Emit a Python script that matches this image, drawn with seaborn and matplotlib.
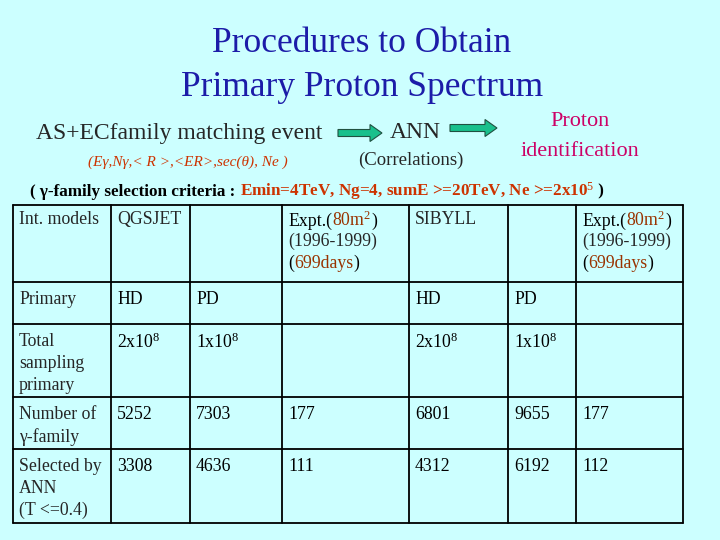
import matplotlib
matplotlib.use("Agg")
import matplotlib.pyplot as plt
import seaborn as sns
from matplotlib.patches import FancyArrow
from matplotlib.offsetbox import TextArea, HPacker, AnnotationBbox

sns.set_style("white")
plt.rcParams['font.family'] = ['Liberation Serif', 'DejaVu Serif']
plt.rcParams['mathtext.fontset'] = 'custom'
plt.rcParams['mathtext.rm'] = 'Liberation Serif'
plt.rcParams['mathtext.it'] = 'Liberation Serif:italic'
plt.rcParams['mathtext.bf'] = 'Liberation Serif:bold'

BG = "#ccffff"
RED = "#cc3300"
DARK = "#993300"
FS = 12.8

title_lines = ["Procedures to Obtain", "Primary Proton Spectrum"]
col_x = [13, 111, 190, 282, 409, 508, 576, 683]
row_y = [205, 282, 324, 397, 449, 523]
header = ["Int. models", "QGSJET", "", "EXPT", "SIBYLL", "", "EXPT"]
row_labels = [["Primary"], ["Total", "sampling", "primary"], ["Number of", "γ-family"],
              ["Selected by", "ANN", "(T <=0.4)"]]
primary = ["HD", "PD", "", "HD", "PD", ""]
total = ["2x10$^{8}$", "1x10$^{8}$", "", "2x10$^{8}$", "1x10$^{8}$", ""]
number = ["5252", "7303", "177", "6801", "9655", "177"]
selected = ["3308", "4636", "111", "4312", "6192", "112"]

fig = plt.figure(figsize=(7.2, 5.4), dpi=100)
fig.patch.set_facecolor(BG)
ax = fig.add_axes([0, 0, 1, 1])
ax.set_xlim(0, 720); ax.set_ylim(540, 0); ax.axis("off")
ax.set_facecolor(BG)

def runs(x, y, parts, size=FS, weight="normal"):
    kids = [TextArea(t, textprops=dict(color=c, fontsize=size, fontweight=weight,
                                       family="Liberation Serif")) for t, c in parts]
    box = HPacker(children=kids, sep=0, pad=0, align="baseline")
    ab = AnnotationBbox(box, (x, y), xycoords="data", box_alignment=(0, 1),
                        frameon=False, pad=0)
    ax.add_artist(ab)

# title
for i, l in enumerate(title_lines):
    ax.text(362, 44 + i * 43, l, fontsize=25.5, color="#1c1ca8", ha="center", va="center")

ax.text(36, 133, "AS+ECfamily matching event", fontsize=17, va="center")
ax.text(390, 133, "ANN", fontsize=17, va="center")
ax.text(580, 122, "Proton", fontsize=16, color="#cc0066", ha="center", va="center")
ax.text(580, 151, "identification", fontsize=16, color="#cc0066", ha="center", va="center")
ax.text(88, 162, "(Eγ,Nγ,< R >,<ER>,sec(θ), Ne )", fontsize=11, color=RED,
        style="italic", va="center")
ax.text(358, 160, "(Correlations)", fontsize=13.5, va="center")
for x0, x1, yy in [(338, 382, 133), (450, 497, 128)]:
    ax.add_patch(FancyArrow(x0, yy, x1 - x0, 0, width=7,
                            head_width=17, head_length=12, length_includes_head=True,
                            fc="#19c08c", ec="#205040", lw=0.8))

runs(30, 180, [("( γ-family selection criteria : ", "black"),
               ("Emin=4TeV, Ng=4, sumE >=20TeV, Ne >=2x10$^{5}$", RED),
               (" )", "black")], size=12.3, weight="bold")

# table grid
for y in row_y:
    ax.plot([col_x[0], col_x[-1]], [y, y], color="black", lw=1.3)
for x in col_x:
    ax.plot([x, x], [row_y[0], row_y[-1]], color="black", lw=1.3)

pad = 6
ty = row_y[0] + 6
for j, h in enumerate(header):
    x = col_x[j] + pad
    if h == "EXPT":
        runs(x, ty, [("Expt.(", "black"), ("80m$^{2}$", DARK), (")", "black")])
        ax.text(x, ty + 22, "(1996-1999)", fontsize=FS, va="top")
        runs(x, ty + 44, [("(", "black"), ("699days", DARK), (")", "black")])
    elif h:
        ax.text(x, ty, h, fontsize=FS, va="top")

rows = [primary, total, number, selected]
for i, (lab, vals) in enumerate(zip(row_labels, rows)):
    y = row_y[i + 1] + 9
    for k, l in enumerate(lab):
        ax.text(col_x[0] + 6, y + k * 22, l, fontsize=FS, va="top")
    for j, v in enumerate(vals):
        if v:
            runs(col_x[j + 1] + pad, y, [(v, "black")])

fig.savefig("out.png", dpi=100, facecolor=BG)
